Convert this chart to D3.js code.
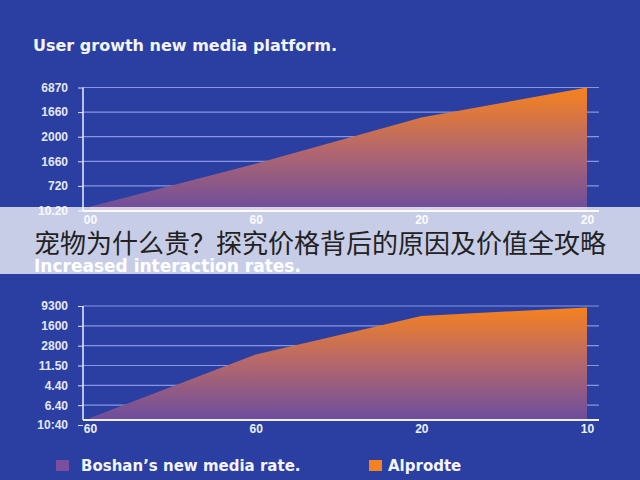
<!DOCTYPE html>
<html>
<head>
<meta charset="utf-8">
<script src="https://cdn.jsdelivr.net/npm/d3@7"></script>
<style>
  body { margin: 0; background: #2b3fa3; }
  svg { display: block; }
</style>
</head>
<body>
<div id="chart"></div>
<script>
// data (values in gridline units, tick labels as printed)
const topXLabels = ["00", "60", "20", "20"];
const topYLabels = ["10.20", "720", "1660", "2000", "1660", "6870"];
const topValues = [0.15, 1.9, 3.78, 5.0];

const botXLabels = ["60", "60", "20", "10"];
const botYLabels = ["10:40", "6.40", "4.40", "11.50", "2800", "1600", "9300"];
const botValues = [0.35, 3.55, 5.5, 5.93];

const legendLabels = ["Boshan\u2019s new media rate.", "Alprodte"];
const legendColors = ["#7b4f9e", "#f5821f"];

const width = 640, height = 480;

const svg = d3.select("#chart")
    .append("svg")
    .attr("width", width)
    .attr("height", height);

svg.append("rect")
    .attr("width", width)
    .attr("height", height)
    .attr("fill", "#2b3fa3");

const defs = svg.append("defs");

function drawChart(id, xLabels, yLabels, values, yBottom, yTop, axisY) {
    const left = 83, right = 599;

    const x = d3.scalePoint()
        .domain(d3.range(xLabels.length))
        .range([90, 587]);

    const y = d3.scaleLinear()
        .domain([0, yLabels.length - 1])
        .range([yBottom, yTop]);

    const g = svg.append("g");

    // gridlines
    g.selectAll(".grid")
        .data(d3.range(1, yLabels.length))
        .enter()
        .append("line")
        .attr("x1", left)
        .attr("x2", right)
        .attr("y1", d => y(d))
        .attr("y2", d => y(d))
        .attr("stroke", "#8796e0")
        .attr("stroke-width", 1.2);

    const grad = defs.append("linearGradient")
        .attr("id", id)
        .attr("gradientUnits", "userSpaceOnUse")
        .attr("x1", 0).attr("x2", 0)
        .attr("y1", yTop).attr("y2", axisY);
    grad.append("stop").attr("offset", "0%").attr("stop-color", "#f8831c");
    grad.append("stop").attr("offset", "50%").attr("stop-color", "#b4676c");
    grad.append("stop").attr("offset", "100%").attr("stop-color", "#6c4d9e");

    const area = d3.area()
        .x((d, i) => x(i))
        .y0(axisY)
        .y1(d => y(d));

    g.append("path")
        .datum(values)
        .attr("d", area)
        .attr("fill", `url(#${id})`);

    // y axis
    const yAxis = g.append("g")
        .attr("transform", `translate(${left},0)`)
        .call(d3.axisLeft(y)
            .tickValues(d3.range(yLabels.length))
            .tickFormat(i => yLabels[i])
            .tickSize(5)
            .tickPadding(10));
    yAxis.select(".domain").remove();
    yAxis.selectAll("line").attr("stroke", "#d8def5");
    yAxis.selectAll("text")
        .attr("fill", "#e4e8f8")
        .style("font", "bold 12px 'Liberation Sans', Arial, sans-serif");

    g.append("line")
        .attr("x1", left).attr("x2", left)
        .attr("y1", yTop).attr("y2", axisY)
        .attr("stroke", "#e8ecfa")
        .attr("stroke-width", 1.5);

    // x axis
    const xAxis = g.append("g")
        .attr("transform", `translate(0,${axisY})`)
        .call(d3.axisBottom(x)
            .tickFormat(i => xLabels[i])
            .tickSize(0)
            .tickPadding(4));
    xAxis.select(".domain").remove();
    xAxis.selectAll("text")
        .attr("fill", "#eef0fb")
        .style("font", "bold 12px 'Liberation Sans', Arial, sans-serif");

    g.append("line")
        .attr("x1", left).attr("x2", right)
        .attr("y1", axisY).attr("y2", axisY)
        .attr("stroke", "#eef0fb")
        .attr("stroke-width", 2);
}

const boldFont = size => `bold ${size}px 'DejaVu Sans', sans-serif`;

svg.append("text")
    .attr("x", 33)
    .attr("y", 51)
    .attr("fill", "#f4f5fc")
    .style("font", boldFont(16))
    .text("User growth new media platform.");

drawChart("gradTop", topXLabels, topYLabels, topValues, 210.5, 87.5, 211);

svg.append("text")
    .attr("x", 34)
    .attr("y", 272)
    .attr("fill", "#ffffff")
    .style("font", boldFont(17))
    .text("Increased interaction rates.");

drawChart("gradBot", botXLabels, botYLabels, botValues, 425, 306, 420);

// legend
const legend = svg.selectAll(".legend")
    .data(legendLabels)
    .enter()
    .append("g")
    .attr("transform", (d, i) => `translate(${[56, 369][i]},460)`);

legend.append("rect")
    .attr("width", 13)
    .attr("height", 11)
    .attr("fill", (d, i) => legendColors[i]);

legend.append("text")
    .attr("x", (d, i) => [25, 19][i])
    .attr("y", 11)
    .attr("fill", "#f4f5fc")
    .style("font", boldFont(15))
    .text(d => d);

// translucent banner with the headline
svg.append("rect")
    .attr("x", 0)
    .attr("y", 207)
    .attr("width", width)
    .attr("height", 67)
    .attr("fill", "#ffffff")
    .attr("fill-opacity", 0.74);

svg.append("text")
    .attr("x", 34)
    .attr("y", 253)
    .attr("fill", "#222222")
    .style("font", "26px 'Noto Sans CJK SC', sans-serif")
    .text("宠物为什么贵？探究价格背后的原因及价值全攻略");
</script>
</body>
</html>
